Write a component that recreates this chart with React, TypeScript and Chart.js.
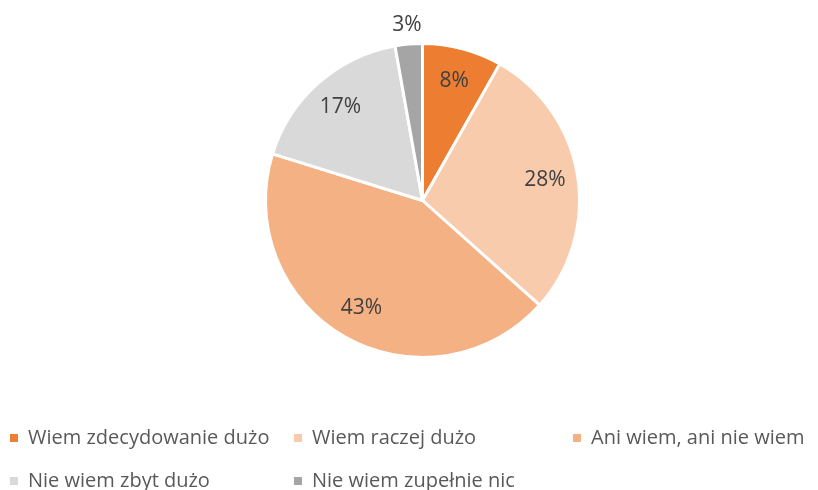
import React, { useEffect, useRef } from "react";
import { Chart, registerables } from "chart.js";

Chart.register(...registerables);

const categories = [
  "Wiem zdecydowanie dużo",
  "Wiem raczej dużo",
  "Ani wiem, ani nie wiem",
  "Nie wiem zbyt dużo",
  "Nie wiem zupełnie nic",
];
const values = [8.2, 28.4, 43.2, 17.4, 2.8];
const colors = ["#ED7D31", "#F8CBAD", "#F4B183", "#D9D9D9", "#A5A5A5"];

const FONT = "'Open Sans', 'Liberation Sans', sans-serif";

const labelPlugin = {
  id: "sliceLabels",
  afterDatasetsDraw(chart: any) {
    const ctx = chart.ctx;
    const meta = chart.getDatasetMeta(0);
    const total = values.reduce((a, b) => a + b, 0);
    ctx.save();
    ctx.font = `21px ${FONT}`;
    ctx.fillStyle = "#404040";
    ctx.textAlign = "center";
    ctx.textBaseline = "middle";
    meta.data.forEach((arc: any, i: number) => {
      const pct = (values[i] / total) * 100;
      const mid = (arc.startAngle + arc.endAngle) / 2;
      const r = pct < 5 ? arc.outerRadius + 19 : arc.outerRadius * 0.79;
      const x = arc.x + Math.cos(mid) * r;
      const y = arc.y + Math.sin(mid) * r;
      ctx.fillText(`${Math.round(pct)}%`, x, y);
    });
    ctx.restore();
  },
};

const legendPlugin = {
  id: "customLegend",
  afterDraw(chart: any) {
    const ctx = chart.ctx;
    const colX = [10, 294, 573];
    const rowY = [438, 481];
    ctx.save();
    ctx.font = `20px ${FONT}`;
    ctx.textBaseline = "middle";
    ctx.textAlign = "left";
    categories.forEach((c, i) => {
      const x = colX[i % 3];
      const y = rowY[Math.floor(i / 3)];
      ctx.fillStyle = colors[i];
      ctx.fillRect(x, y - 4, 8, 8);
      ctx.fillStyle = "#595959";
      ctx.fillText(c, x + 18, y);
    });
    ctx.restore();
  },
};

export default function App() {
  const ref = useRef<HTMLCanvasElement>(null);
  useEffect(() => {
    if (!ref.current) return;
    const chart = new Chart(ref.current, {
      type: "pie",
      data: {
        labels: categories,
        datasets: [
          {
            data: values,
            backgroundColor: colors,
            borderColor: "#FFFFFF",
            borderWidth: 3,
          },
        ],
      },
      options: {
        animation: false,
        responsive: false,
        maintainAspectRatio: false,
        layout: { padding: { top: 42, bottom: 131, left: 264, right: 237 } },
        plugins: {
          legend: { display: false },
          tooltip: { enabled: false },
        },
      },
      plugins: [labelPlugin, legendPlugin],
    });
    return () => chart.destroy();
  }, []);
  return (
    <div style={{ position: "absolute", left: 0, top: 0, width: 818, height: 490, background: "#fff" }}>
      <canvas ref={ref} width={818} height={490} style={{ width: 818, height: 490 }} />
    </div>
  );
}
